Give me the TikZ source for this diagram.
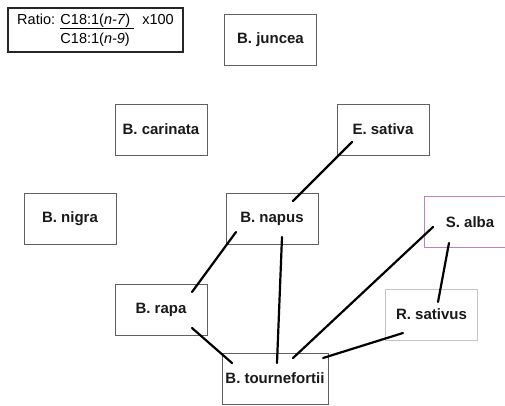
\documentclass[tikz,border=0pt]{standalone}
\usepackage{fontspec}
\setmainfont{Liberation Sans}
\usepackage{tikz}
\usetikzlibrary{calc}
\definecolor{boxgray}{HTML}{606060}
\definecolor{lightgray}{HTML}{C4C4C4}
\definecolor{albapurple}{HTML}{C47EC8}
\tikzset{
  species/.style={draw=boxgray, line width=0.9pt, minimum width=92pt, minimum height=51pt,
    inner sep=0pt, font=\fontsize{15}{17}\selectfont\bfseries, text=black!90},
  link/.style={line width=2.2pt, line cap=round}
}

\begin{document}
\begin{tikzpicture}[x=1pt,y=-1pt]
\clip (0,0) rectangle (505,406);
\node[draw=black!85, line width=1.6pt, minimum width=175pt, minimum height=44pt, inner sep=0pt,
  font=\fontsize{14.5}{19}\selectfont, align=left] (ratio) at (95.5,30)
  {Ratio: \underline{C18:1(\textit{n-7})\ }\ \ x100\\\phantom{Ratio: }C18:1(\textit{n-9})};
\node[species] (juncea) at (270.5,39.5) {B. juncea};
\node[species] (carinata) at (161,129.5) {B. carinata};
\node[species] (esativa) at (383,129.5) {E. sativa};
\node[species] (nigra) at (70,218.5) {B. nigra};
\node[species] (napus) at (272,218.5) {B. napus};
\node[species, draw=albapurple] (salba) at (470,222) {S. alba};
\node[species] (rapa) at (161,309.5) {B. rapa};
\node[species, draw=lightgray] (rsativus) at (431.5,314.5) {R. sativus};
\node[species, minimum width=106pt] (tourn) at (275,378.5) {B. tournefortii};
\draw[link] ([shift={(-31,12.5)}]esativa.center) -- ([shift={(21,-17.5)}]napus.center);
\draw[link] ([shift={(-36,13.5)}]napus.center) -- ([shift={(31,-17.5)}]rapa.center);
\draw[link] ([shift={(10,18.5)}]napus.center) -- ([shift={(2,-15.5)}]tourn.center);
\draw[link] ([shift={(31,18.5)}]rapa.center) -- ([shift={(-43,-15.5)}]tourn.center);
\draw[link] ([shift={(-37,5)}]salba.center) -- ([shift={(18,-20.5)}]tourn.center);
\draw[link] ([shift={(-21,21)}]salba.center) -- ([shift={(6.5,-12.5)}]rsativus.center);
\draw[link] ([shift={(-28.5,18.5)}]rsativus.center) -- ([shift={(48,-20.5)}]tourn.center);
\end{tikzpicture}
\end{document}
